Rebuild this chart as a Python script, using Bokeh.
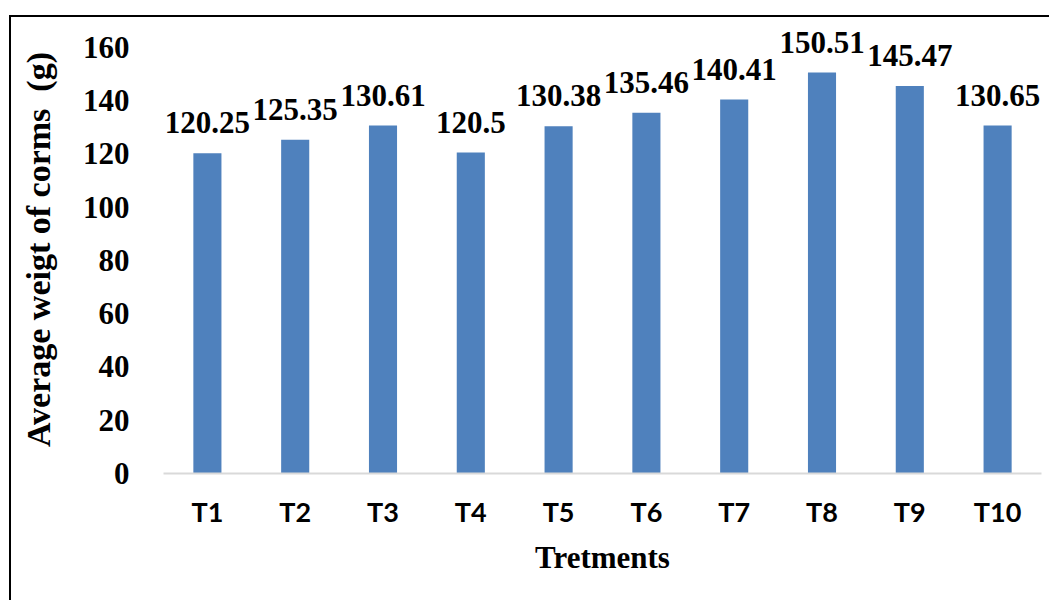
from bokeh.plotting import figure
from bokeh.models import ColumnDataSource, FixedTicker, LabelSet, Range1d
from bokeh.core.properties import value
from bokeh.embed import file_html
from bokeh.resources import INLINE

categories = ["T1", "T2", "T3", "T4", "T5", "T6", "T7", "T8", "T9", "T10"]
weights = [120.25, 125.35, 130.61, 120.5, 130.38, 135.46, 140.41, 150.51, 145.47, 130.65]
labels = ["120.25", "125.35", "130.61", "120.5", "130.38", "135.46", "140.41", "150.51", "145.47", "130.65"]
y_ticks = [0, 20, 40, 60, 80, 100, 120, 140, 160]

src = ColumnDataSource(dict(cat=categories, w=weights, lab=labels))

p = figure(x_range=categories, y_range=Range1d(0, 168.2), width=1040, height=585,
           output_backend="svg", toolbar_location=None,
           min_border_left=152, min_border_right=10, min_border_top=8, min_border_bottom=129)
p.styles = {"border-top": "2px solid black", "border-left": "2px solid black",
            "margin-top": "15px", "margin-left": "9px"}
p.outline_line_color = None
p.xgrid.grid_line_color = None
p.ygrid.grid_line_color = None

p.vbar(x="cat", top="w", width=0.32, source=src, fill_color="#4f81bd", line_color=None)

lbl = LabelSet(x="cat", y="w", text="lab", source=src, text_align="center", text_baseline="alphabetic",
               y_offset=20, text_font=value("Liberation Serif"), text_font_style="bold",
               text_font_size="31px", text_color="black")
p.add_layout(lbl)

p.yaxis.ticker = FixedTicker(ticks=y_ticks)
p.yaxis.axis_line_color = None
p.yaxis.major_tick_line_color = None
p.yaxis.minor_tick_line_color = None
p.yaxis.major_label_text_font = "Liberation Serif"
p.yaxis.major_label_text_font_style = "bold"
p.yaxis.major_label_text_font_size = "31px"
p.yaxis.major_label_text_color = "black"
p.yaxis.major_label_standoff = 28
p.yaxis.axis_label = "Average weigt of corms \u00a0(g)"
p.yaxis.axis_label_text_font = "Liberation Serif"
p.yaxis.axis_label_text_font_style = "bold"
p.yaxis.axis_label_text_font_size = "34px"
p.yaxis.axis_label_text_color = "black"
p.yaxis.axis_label_standoff = 23

p.xaxis.axis_line_color = "#d9d9d9"
p.xaxis.axis_line_width = 2
p.xaxis.major_tick_line_color = None
p.xaxis.minor_tick_line_color = None
p.xaxis.major_label_text_font = "Lato"
p.xaxis.major_label_text_font_style = "bold"
p.xaxis.major_label_text_font_size = "27px"
p.xaxis.major_label_text_color = "black"
p.xaxis.major_label_standoff = 15
p.xaxis.axis_label = "Tretments"
p.xaxis.axis_label_text_font = "Liberation Serif"
p.xaxis.axis_label_text_font_style = "bold"
p.xaxis.axis_label_text_font_size = "31px"
p.xaxis.axis_label_text_color = "black"
p.xaxis.axis_label_standoff = 9

open("out.html", "w").write(file_html(p, INLINE))
